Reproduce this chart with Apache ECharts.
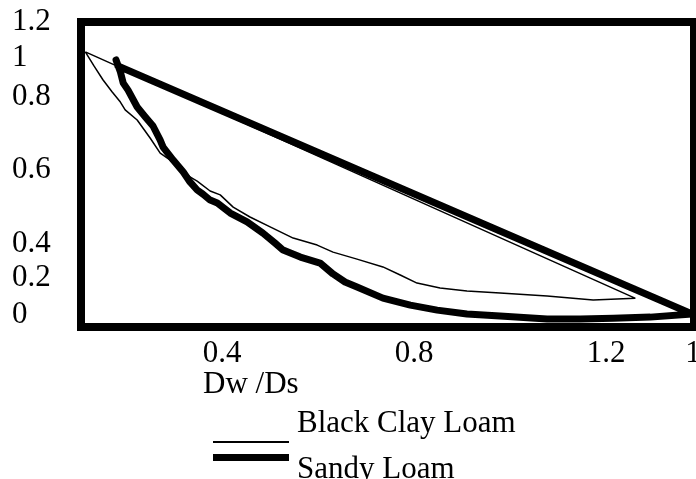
<!DOCTYPE html>
<html>
<head>
<meta charset="utf-8">
<script src="https://cdn.jsdelivr.net/npm/echarts@6/dist/echarts.min.js"></script>
<style>
  html, body { margin: 0; padding: 0; background: #fff; }
  #chart { width: 696px; height: 479px; }
</style>
</head>
<body>
<div id="chart"></div>
<script>
// Black Clay Loam (thin) : lower curve, then straight back to the start
var clayX = [0.115, 0.133, 0.152, 0.171, 0.188, 0.198, 0.223, 0.250, 0.271, 0.292,
  0.313, 0.333, 0.348, 0.375, 0.396, 0.423, 0.458, 0.500, 0.548, 0.598,
  0.631, 0.681, 0.735, 0.771, 0.806, 0.854, 0.910, 0.979, 1.077, 1.173,
  1.260, 0.115]
var clayY = [1.012, 0.958, 0.904, 0.858, 0.819, 0.789, 0.750, 0.681, 0.623, 0.596,
  0.569, 0.531, 0.515, 0.477, 0.462, 0.415, 0.377, 0.339, 0.296, 0.269,
  0.242, 0.215, 0.185, 0.154, 0.123, 0.104, 0.092, 0.085, 0.073, 0.058,
  0.065, 1.012]

// Sandy Loam (thick)
var sandX = [0.179, 0.188, 0.194, 0.204, 0.223, 0.240, 0.256, 0.271, 0.277, 0.298,
  0.319, 0.333, 0.348, 0.360, 0.375, 0.390, 0.417, 0.452, 0.485, 0.510,
  0.527, 0.563, 0.604, 0.631, 0.656, 0.681, 0.735, 0.792, 0.848, 0.910,
  0.979, 1.077, 1.146, 1.215, 1.292, 1.379, 0.183]
var sandY = [0.981, 0.935, 0.892, 0.865, 0.800, 0.762, 0.727, 0.673, 0.646, 0.596,
  0.550, 0.512, 0.481, 0.465, 0.442, 0.431, 0.392, 0.358, 0.315, 0.277,
  0.250, 0.223, 0.200, 0.158, 0.127, 0.108, 0.065, 0.038, 0.019, 0.004,
  -0.004, -0.015, -0.015, -0.012, -0.008, 0.004, 0.958]

// tick labels (text) and where they sit on the axes
var xTickText = ['0.4', '0.8', '1.2', '1.4']
var xTickAt = [0.4, 0.8, 1.2, 1.383]
var yTickText = ['0', '0.2', '0.4', '0.6', '0.8', '1', '1.2']
var yTickAt = [0, 0.142, 0.273, 0.558, 0.838, 0.988, 1.126]

var FONT = "'Liberation Serif', 'Times New Roman', serif"

function zip (xs, ys) {
  var out = []
  for (var i = 0; i < xs.length; i++) out.push([xs[i], ys[i]])
  return out
}

function lookup (at, value) {
  for (var i = 0; i < at.length; i++) {
    if (Math.abs(at[i] - value) < 1e-6) return i
  }
  return -1
}

var chart = echarts.init(document.getElementById('chart'))

chart.setOption({
  animation: false,
  backgroundColor: '#fff',
  title: {
    text: 'Dw /Ds',
    left: 203,
    top: 369,
    padding: 0,
    textStyle: { fontFamily: FONT, fontSize: 31, fontWeight: 'normal', color: '#000' }
  },
  // legend text sits above / below its line in the original, so pad with an empty line
  legend: [
    {
      data: [{ name: 'Black Clay Loam', icon: 'rect' }],
      formatter: function (name) { return name + '\n ' },
      left: 213,
      top: 406,
      padding: 0,
      itemWidth: 76,
      itemHeight: 2,
      selectedMode: false,
      textStyle: { fontFamily: FONT, fontSize: 31, lineHeight: 36, color: '#000', padding: [0, 0, 0, 3] }
    },
    {
      data: [{ name: 'Sandy Loam', icon: 'rect' }],
      formatter: function (name) { return ' \n' + name },
      left: 213,
      top: 430,
      padding: 0,
      itemWidth: 76,
      itemHeight: 7,
      selectedMode: false,
      textStyle: { fontFamily: FONT, fontSize: 31, lineHeight: 24, color: '#000', padding: [0, 0, 0, 3] }
    }
  ],
  grid: {
    left: 81,
    top: 22,
    right: 2,
    bottom: 152,
    containLabel: false,
    outerBoundsMode: 'none',
    show: true,
    borderWidth: 8,
    borderColor: '#000',
    backgroundColor: 'transparent'
  },
  xAxis: {
    type: 'value',
    min: 0.106,
    max: 1.383,
    axisLine: { show: false },
    axisTick: { show: false },
    splitLine: { show: false },
    axisLabel: {
      customValues: xTickAt,
      margin: 11,
      fontFamily: FONT,
      fontSize: 31,
      color: '#000',
      formatter: function (v) {
        var i = lookup(xTickAt, v)
        if (i < 0) return ''
        if (i === xTickAt.length - 1) return '{edge|' + xTickText[i] + '}'
        return xTickText[i]
      },
      rich: {
        edge: { fontFamily: FONT, fontSize: 31, color: '#000', padding: [0, 0, 0, 21] }
      }
    }
  },
  yAxis: {
    type: 'value',
    min: -0.046,
    max: 1.127,
    axisLine: { show: false },
    axisTick: { show: false },
    splitLine: { show: false },
    axisLabel: {
      customValues: yTickAt,
      align: 'left',
      margin: 69,
      fontFamily: FONT,
      fontSize: 31,
      color: '#000',
      formatter: function (v) {
        var i = lookup(yTickAt, v)
        return i < 0 ? '' : yTickText[i]
      }
    }
  },
  series: [
    {
      name: 'Black Clay Loam',
      type: 'line',
      data: zip(clayX, clayY),
      symbol: 'none',
      color: '#000',
      lineStyle: { color: '#000', width: 1.5, join: 'round' }
    },
    {
      name: 'Sandy Loam',
      type: 'line',
      data: zip(sandX, sandY),
      symbol: 'none',
      color: '#000',
      lineStyle: { color: '#000', width: 7, cap: 'round', join: 'round' }
    }
  ]
})
</script>
</body>
</html>
